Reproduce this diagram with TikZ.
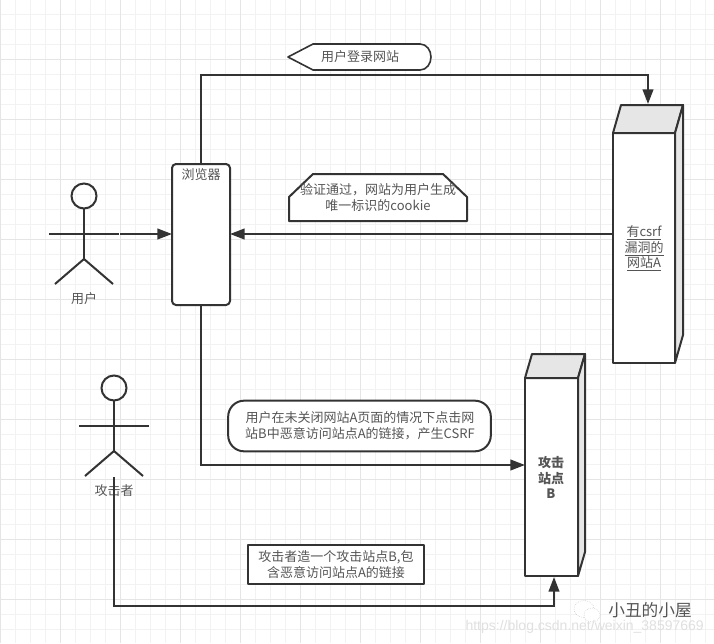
\documentclass[tikz,border=0pt]{standalone}
\usepackage{fontspec}
\setmainfont{Noto Sans CJK SC}
\newfontfamily\markfont{Liberation Sans}
\usetikzlibrary{arrows.meta,calc}
\definecolor{inkdark}{HTML}{333333}
\definecolor{labelgray}{HTML}{555555}
\definecolor{facegray}{HTML}{E6E6E6}
\tikzset{
  flow/.style={draw=inkdark,line width=1.5pt,-{Triangle[length=11pt,width=8pt]}},
  outline/.style={draw=inkdark,line width=1.5pt,fill=white,line join=round},
  figure/.style={draw=inkdark,line width=1.5pt},
  sitebox/.style={outline,rectangle,outer sep=0pt,inner sep=0pt,align=center,text=labelgray,font=\fontsize{9.75pt}{11.7pt}\selectfont},
  label/.style={text=labelgray,align=center,inner sep=0pt,font=\fontsize{9.75pt}{12pt}\selectfont},
}
\begin{document}
\begin{tikzpicture}[x=0.75pt,y=-0.75pt]
\useasboundingbox (0,0) rectangle (714,643);
% grid
\fill[white] (0,0) rectangle (714,643);
\foreach \v in {0,15,...,705}{
  \draw[black!5,line width=0.75pt] ({\v+0.7},0) -- ({\v+0.7},643);
}
\foreach \v in {14,29,...,643}{
  \draw[black!5,line width=0.75pt] (0,\v) -- (714,\v);
}
\foreach \v in {0,60,...,660}{
  \draw[black!10,line width=0.75pt] ({\v+0.7},0) -- ({\v+0.7},643);
}
\foreach \v in {59,119,...,599}{
  \draw[black!10,line width=0.75pt] (0,\v) -- (714,\v);
}
% stick figures
\foreach \who/\cx/\cy in {user/84/196,attacker/114/388}{
  \draw[figure] (\cx,\cy) circle (12.5);
  \draw[figure] (\cx,{\cy+12.5}) -- (\cx,{\cy+63});
  \draw[figure] ({\cx-35},{\cy+38}) -- ({\cx+35},{\cy+38});
  \draw[figure] ({\cx-29},{\cy+88}) -- (\cx,{\cy+63}) -- ({\cx+29},{\cy+88});
}
\node[label] (userlabel) at (84,299) {用户};
\node[label] (attackerlabel) at (114,491) {攻击者};
\coordinate (userhand) at (120,234);
\coordinate (attackerfoot) at (114,477);
% browser
\node[sitebox,rounded corners=3pt,minimum width=43.5pt,minimum height=105.75pt] (browser) at (201,234.5) {};
\node[label] (browserlabel) at (201,175) {浏览器};
% sites
\foreach \s/\cx/\cy/\boxw/\boxh/\offx/\offy in {siteA/644/248/62/230/8/28,siteB/551.5/477/53/198/7/24}{
  \node[sitebox,minimum width=\boxw*0.75pt,minimum height=\boxh*0.75pt] (\s) at (\cx,\cy) {};
  \draw[outline,fill=facegray] (\s.north west) -- ++(\offx,-\offy) -- ($(\s.north east)+(\offx,-\offy)$) -- (\s.north east) -- cycle;
  \draw[outline,fill=facegray] (\s.north east) -- ++(\offx,-\offy) -- ($(\s.south east)+(\offx,-\offy)$) -- (\s.south east) -- cycle;
}
\node[label,font=\fontsize{9.75pt}{11.6pt}\selectfont] (siteAlabel) at (644,248.5) {\underline{有csrf\vphantom{漏}}\\\underline{漏洞的}\\\underline{网站A\vphantom{漏}}};
\node[label,font=\fontsize{9.75pt}{11.6pt}\selectfont\bfseries] (siteBlabel) at (551,477.5) {攻击\\站点\\B};
\coordinate (siteAroof) at (648,104);
\coordinate (siteBdoor) at (525,465);
\coordinate (siteBbase) at (554,577);
% connectors
\draw[flow] (browser.north) -- (201,75) -| (siteAroof);
\draw[flow] (siteA.west |- userhand) -- (browser.east |- userhand);
\draw[flow] (userhand) -- (browser.west |- userhand);
\draw[flow] (browser.south) |- (siteBdoor);
\draw[flow] (attackerfoot) -- (114,606) -| (siteBbase);
% message shapes
\draw[outline,line width=1.2pt] (288,57) -- (313,44) -- (420,44) to[out=0,in=90] (431,57) to[out=-90,in=0] (420,70) -- (313,70) -- cycle;
\node[label] (login) at (360,57) {用户登录网站};
\draw[outline] (289,221) -- (289,197) -- (313,174) -- (443,174) -- (467,197) -- (467,221) -- cycle;
\node[label] (verify) at (378,198) {验证通过，网站为用户生成\\唯一标识的cookie};
\node[sitebox,rounded corners=12pt,minimum width=197pt,minimum height=38pt] (click) at (359.5,426) {};
\node[label] (clicklabel) at (360,426) {用户在未关闭网站A页面的情况下点击网\\站B中恶意访问站点A的链接，产生CSRF};
\node[sitebox,minimum width=132pt,minimum height=29pt] (forge) at (336,564.5) {};
\node[label] (forgelabel) at (336,565) {攻击者造一个攻击站点B,包\\含恶意访问站点A的链接};
% watermark
\draw[gray!50,densely dotted,fill=white] (584,609) ellipse (10 and 8.5);
\draw[gray!50,densely dotted,fill=white] (592,615) ellipse (8 and 7);
\node[text=labelgray,inner sep=0pt,font=\fontsize{12.5pt}{14pt}\selectfont] (marktitle) at (650,610.5) {小丑的小屋};
\node[text=black!12,anchor=east,inner sep=0pt,font=\markfont\fontsize{10.5pt}{12pt}\selectfont] (markurl) at (704,626.5) {https://blog.csdn.net/weixin\_38597669};
\end{tikzpicture}
\end{document}
